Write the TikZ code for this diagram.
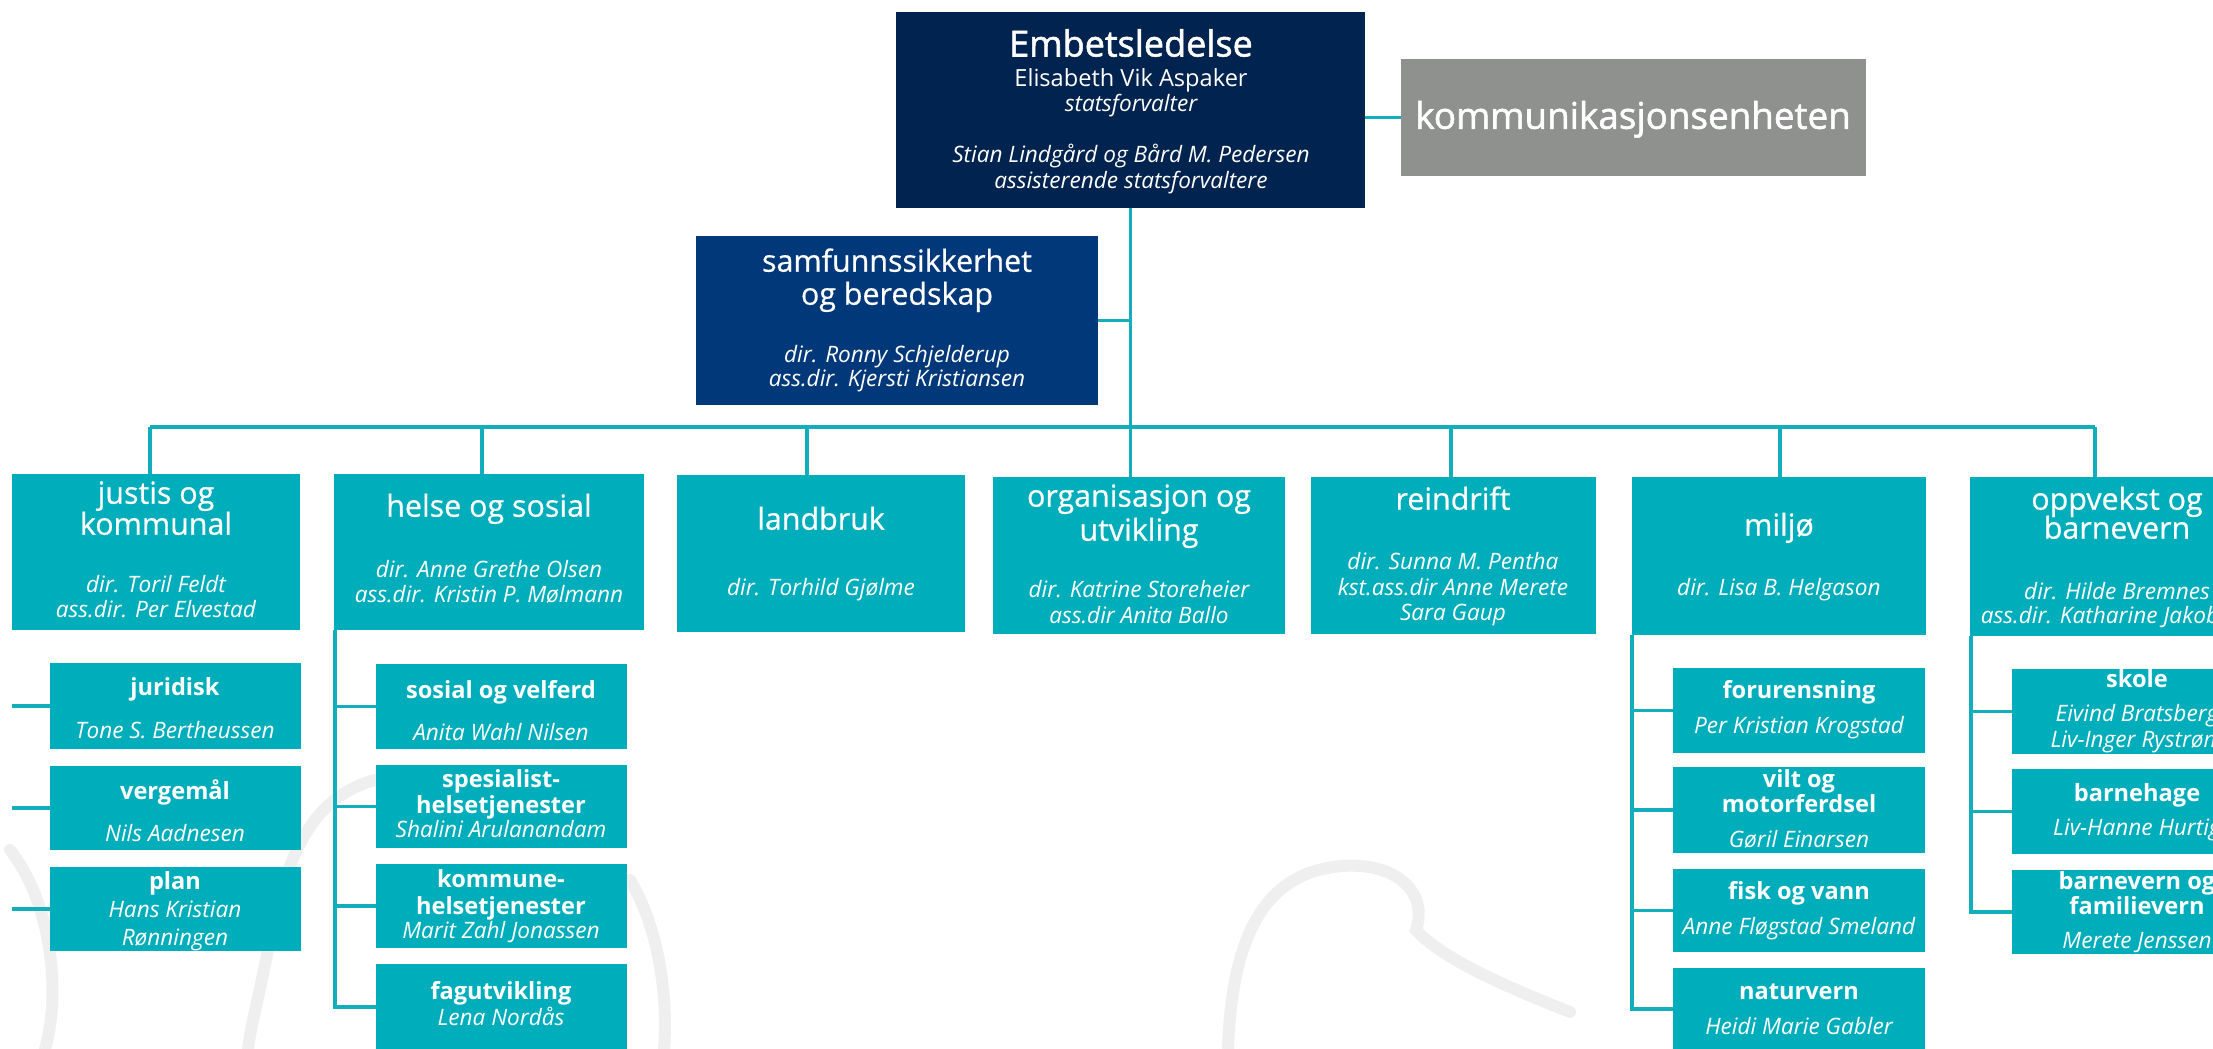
\documentclass[tikz,border=0pt]{standalone}
\usepackage{fontspec}
\setmainfont{Open Sans}
\newfontfamily\semib[FakeBold=1.5]{Open Sans}
\newfontfamily\medf[FakeBold=0.6]{Open Sans}
\definecolor{navyc}{HTML}{01234F}
\definecolor{bluec}{HTML}{013879}
\definecolor{tealc}{HTML}{00ADBB}
\definecolor{linec}{HTML}{12AEBC}
\definecolor{grayc}{HTML}{8E918D}
\definecolor{wmc}{HTML}{EFEFEF}
\newcommand\ubox[6]{\node[#2, minimum width={(#5-#3)*0.5pt}, minimum height={(#6-#4)*0.5pt}] (#1) at ({(#3+#5)/2},{(#4+#6)/2}) {};}
\newcommand\tx[5][nm]{\node[#1] (#2) at (#3,#4) {#5};}
\begin{document}
\begin{tikzpicture}[x=0.5pt,y=-0.5pt,
  boxbase/.style={rectangle, draw=none, inner sep=0pt, outer sep=0pt},
  navy/.style={boxbase, fill=navyc},
  blueb/.style={boxbase, fill=bluec},
  grayb/.style={boxbase, fill=grayc},
  teal/.style={boxbase, fill=tealc},
  tl/.style={inner sep=0pt, outer sep=0pt, text=white, anchor=center, text depth=0pt},
  bigt/.style={tl, font=\semib\fontsize{18}{20}\selectfont, text height=11.5pt},
  kt/.style={tl, font=\semib\fontsize{18.4}{20}\selectfont, text height=11.8pt},
  rg/.style={tl, font=\fontsize{11.8}{13}\selectfont, text height=7.6pt},
  nm/.style={tl, font=\fontsize{11.3}{13}\selectfont\itshape, text height=7.2pt},
  ttl/.style={tl, font=\medf\fontsize{15.2}{17}\selectfont, text height=9.7pt},
  sb/.style={tl, font=\fontsize{11.8}{13}\selectfont\bfseries, text height=7.6pt},
  link/.style={draw=linec, line width=1.6pt},
  wm/.style={draw=wmc, line width=6pt, line cap=round}]
\useasboundingbox (0,0) rectangle (2213,1049);
\clip (0,0) rectangle (2213,1049);
% watermark
\draw[wm] (10,850) .. controls (50,900) and (62,990) .. (45,1049);
\draw[wm] (375,780) .. controls (300,800) and (282,880) .. (268,950) .. controls (258,1000) and (250,1030) .. (248,1049);
\draw[wm] (630,880) .. controls (660,930) and (668,1000) .. (664,1049);
\draw[wm] (1228,1049) .. controls (1232,930) and (1268,872) .. (1342,866) .. controls (1400,862) and (1428,895) .. (1416,930) .. controls (1445,962) and (1520,992) .. (1570,1012);
% top
\ubox{embets}{navy}{896}{12}{1365}{208}
\tx[bigt]{embT}{1131}{45}{Embetsledelse}
\tx[rg]{emb1}{1131}{79}{Elisabeth Vik Aspaker}
\tx{emb2}{1131}{104}{statsforvalter}
\tx{emb3}{1131}{155}{Stian Lindgård og Bård M. Pedersen}
\tx{emb4}{1131}{181}{assisterende statsforvaltere}
\ubox{komm}{grayb}{1401}{59}{1866}{176}
\tx[kt]{kommT}{1633}{117}{kommunikasjonsenheten}
\ubox{samf}{blueb}{696}{236}{1098}{405}
\tx[ttl]{samf1}{897}{262}{samfunnssikkerhet}
\tx[ttl]{samf2}{897}{295}{og beredskap}
\tx{samf3}{897}{355}{dir. Ronny Schjelderup}
\tx{samf4}{897}{379}{ass.dir. Kjersti Kristiansen}
% row of departments
\ubox{justis}{teal}{12}{474}{300}{630}
\tx[ttl]{justis1}{156}{494}{justis og}
\tx[ttl]{justis2}{156}{525}{kommunal}
\tx{justis3}{156}{585}{dir. Toril Feldt}
\tx{justis4}{156}{610}{ass.dir. Per Elvestad}
\ubox{helse}{teal}{334}{474}{644}{630}
\tx[ttl]{helse1}{489}{507}{helse og sosial}
\tx{helse2}{489}{570}{dir. Anne Grethe Olsen}
\tx{helse3}{489}{595}{ass.dir. Kristin P. Mølmann}
\ubox{land}{teal}{677}{475}{965}{632}
\tx[ttl]{land1}{821}{520}{landbruk}
\tx{land2}{821}{588}{dir. Torhild Gjølme}
\ubox{org}{teal}{993}{477}{1285}{634}
\tx[ttl]{org1}{1139}{497}{organisasjon og}
\tx[ttl]{org2}{1139}{531}{utvikling}
\tx{org3}{1139}{590}{dir. Katrine Storeheier}
\tx{org4}{1139}{616}{ass.dir Anita Ballo}
\ubox{rein}{teal}{1311}{477}{1596}{634}
\tx[ttl]{rein1}{1453}{500}{reindrift}
\tx{rein2}{1453}{562}{dir. Sunna M. Pentha}
\tx{rein3}{1453}{588}{kst.ass.dir Anne Merete}
\tx{rein4}{1453}{613}{Sara Gaup}
\ubox{milj}{teal}{1632}{477}{1926}{635}
\tx[ttl]{milj1}{1779}{526}{miljø}
\tx{milj2}{1779}{588}{dir. Lisa B. Helgason}
\ubox{oppv}{teal}{1970}{477}{2264}{636}
\tx[ttl]{oppv1}{2117}{500}{oppvekst og}
\tx[ttl]{oppv2}{2117}{529}{barnevern}
\tx{oppv3}{2117}{592}{dir. Hilde Bremnes}
\tx{oppv4}{2117}{616}{ass.dir. Katharine Jakobsen}
% justis children
\ubox{jur}{teal}{50}{663}{301}{749}
\tx[sb]{jur1}{175}{688}{juridisk}
\tx{jur2}{175}{731}{Tone S. Bertheussen}
\ubox{verg}{teal}{50}{766}{301}{850}
\tx[sb]{verg1}{175}{792}{vergemål}
\tx{verg2}{175}{834}{Nils Aadnesen}
\ubox{plan}{teal}{50}{867}{301}{951}
\tx[sb]{plan1}{175}{882}{plan}
\tx{plan2}{175}{910}{Hans Kristian}
\tx{plan3}{175}{938}{Rønningen}
% helse children
\ubox{sos}{teal}{376}{664}{627}{749}
\tx[sb]{sos1}{501}{691}{sosial og velferd}
\tx{sos2}{501}{733}{Anita Wahl Nilsen}
\ubox{spes}{teal}{376}{765}{627}{848}
\tx[sb]{spes1}{501}{780}{spesialist-}
\tx[sb]{spes2}{501}{806}{helsetjenester}
\tx{spes3}{501}{830}{Shalini Arulanandam}
\ubox{komh}{teal}{376}{864}{627}{948}
\tx[sb]{komh1}{501}{880}{kommune-}
\tx[sb]{komh2}{501}{907}{helsetjenester}
\tx{komh3}{501}{931}{Marit Zahl Jonassen}
\ubox{fag}{teal}{376}{964}{627}{1050}
\tx[sb]{fag1}{501}{992}{fagutvikling}
\tx{fag2}{501}{1018}{Lena Nordås}
% miljo children
\ubox{forur}{teal}{1673}{668}{1925}{753}
\tx[sb]{forur1}{1799}{691}{forurensning}
\tx{forur2}{1799}{726}{Per Kristian Krogstad}
\ubox{vilt}{teal}{1673}{767}{1925}{853}
\tx[sb]{vilt1}{1799}{780}{vilt og}
\tx[sb]{vilt2}{1799}{805}{motorferdsel}
\tx{vilt3}{1799}{840}{Gøril Einarsen}
\ubox{fisk}{teal}{1673}{869}{1925}{952}
\tx[sb]{fisk1}{1799}{892}{fisk og vann}
\tx{fisk2}{1799}{927}{Anne Fløgstad Smeland}
\ubox{natur}{teal}{1673}{968}{1925}{1050}
\tx[sb]{natur1}{1799}{992}{naturvern}
\tx{natur2}{1799}{1027}{Heidi Marie Gabler}
% oppvekst children
\ubox{skole}{teal}{2012}{669}{2262}{754}
\tx[sb]{skole1}{2137}{680}{skole}
\tx{skole2}{2137}{714}{Eivind Bratsberg}
\tx{skole3}{2137}{740}{Liv-Inger Rystrøm}
\ubox{bhage}{teal}{2012}{769}{2262}{854}
\tx[sb]{bhage1}{2137}{794}{barnehage}
\tx{bhage2}{2137}{828}{Liv-Hanne Hurtig}
\ubox{bvern}{teal}{2012}{870}{2262}{954}
\tx[sb]{bvern1}{2137}{882}{barnevern og}
\tx[sb]{bvern2}{2137}{907}{familievern}
\tx{bvern3}{2137}{941}{Merete Jenssen}
% connectors
\coordinate (busL) at (150,427);
\coordinate (busR) at (2095,427);
\draw[link] (busL) -- (busR);
\draw[link] (embets.south) -- (embets.south |- org.north);
\draw[link] (komm.west -| embets.east) -- (komm.west);
\draw[link] (samf.east) -- (samf.east -| embets.south);
\coordinate (d1) at (150,427);
\coordinate (d2) at (482,427);
\coordinate (d3) at (807,427);
\coordinate (d5) at (1451,427);
\coordinate (d6) at (1780,427);
\coordinate (d7) at (2095,427);
\draw[link] (d1) -- (d1 |- justis.north);
\draw[link] (d2) -- (d2 |- helse.north);
\draw[link] (d3) -- (d3 |- land.north);
\draw[link] (d5) -- (d5 |- rein.north);
\draw[link] (d6) -- (d6 |- milj.north);
\draw[link] (d7) -- (d7 |- oppv.north);
\coordinate (jl) at (12,0);
\draw[link] (jur.west -| jl) -- (jur.west);
\draw[link] (verg.west -| jl) -- (verg.west);
\draw[link] (plan.west -| jl) -- (plan.west);
\coordinate (hv) at (335,630);
\draw[link] (hv) |- (sos.west);
\draw[link] (hv) |- (spes.west);
\draw[link] (hv) |- (komh.west);
\draw[link] (hv) |- (fag.west);
\coordinate (mv) at (1632,635);
\draw[link] (mv) |- (forur.west);
\draw[link] (mv) |- (vilt.west);
\draw[link] (mv) |- (fisk.west);
\draw[link] (mv) |- (natur.west);
\coordinate (ov) at (1971,636);
\draw[link] (ov) |- (skole.west);
\draw[link] (ov) |- (bhage.west);
\draw[link] (ov) |- (bvern.west);
\end{tikzpicture}
\end{document}
